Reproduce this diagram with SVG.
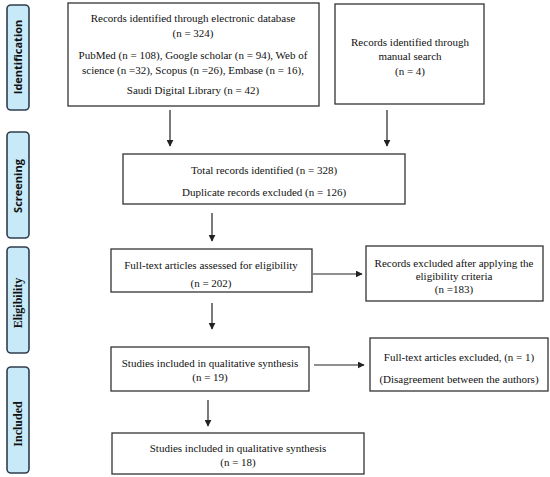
<svg xmlns="http://www.w3.org/2000/svg" width="550" height="477" viewBox="0 0 550 477">
<style>
.box{fill:#fff;stroke:#333;stroke-width:1.3}
.side{fill:#c8e9f8;stroke:#2e3e4c;stroke-width:1.6}
.t{font-family:"Liberation Serif",serif;font-size:11px;fill:#111;text-anchor:middle}
.ls{font-family:"Open Sans",sans-serif;font-size:11px;font-weight:bold;fill:#111;text-anchor:middle}
.lr{font-family:"Liberation Serif",serif;font-size:12px;font-weight:bold;fill:#111;text-anchor:middle}
.c{stroke:#222;stroke-width:1.2;fill:none;marker-end:url(#ah)}
</style>
<defs>
<marker id="ah" viewBox="0 0 10 10" refX="9" refY="5" markerWidth="7" markerHeight="7" markerUnits="userSpaceOnUse" orient="auto">
<path d="M0,0 L10,5 L0,10 z" fill="#222"/>
</marker>
</defs>
<rect width="550" height="477" fill="#fff"/>
<g id="stage-identification">
<rect class="side" x="7" y="5" width="22" height="105" rx="4"/>
<text class="ls" transform="translate(22,57) rotate(-90)">Identification</text>
</g>
<g id="stage-screening">
<rect class="side" x="7" y="132" width="22" height="106" rx="4"/>
<text class="ls" transform="translate(22,186) rotate(-90)">Screening</text>
</g>
<g id="stage-eligibility">
<rect class="side" x="7" y="247" width="22" height="106" rx="4"/>
<text class="lr" transform="translate(22,303) rotate(-90)">Eligibility</text>
</g>
<g id="stage-included">
<rect class="side" x="7" y="367" width="22" height="106" rx="4"/>
<text class="lr" transform="translate(22,424) rotate(-90)">Included</text>
</g>
<g id="n-database">
<rect class="box" x="68" y="3" width="251" height="103"/>
<text class="t" x="193" y="22">Records identified through electronic database</text>
<text class="t" x="193" y="37">(n = 324)</text>
<text class="t" x="193" y="59">PubMed (n = 108), Google scholar (n = 94), Web of</text>
<text class="t" x="193" y="74">science (n =32), Scopus (n =26), Embase (n = 16),</text>
<text class="t" x="193" y="94">Saudi Digital Library (n = 42)</text>
</g>
<g id="n-manual">
<rect class="box" x="335" y="4" width="149" height="100"/>
<text class="t" x="410" y="46">Records identified through</text>
<text class="t" x="410" y="60">manual search</text>
<text class="t" x="410" y="75">(n = 4)</text>
</g>
<g id="n-total">
<rect class="box" x="123" y="154" width="282" height="50"/>
<text class="t" x="264" y="174">Total records identified (n = 328)</text>
<text class="t" x="264" y="196">Duplicate records excluded (n = 126)</text>
</g>
<g id="n-fulltext">
<rect class="box" x="111" y="249" width="201" height="43"/>
<text class="t" x="211" y="269">Full-text articles assessed for eligibility</text>
<text class="t" x="211" y="287">(n = 202)</text>
</g>
<g id="n-excluded">
<rect class="box" x="366" y="246" width="177" height="55"/>
<text class="t" x="454" y="267">Records excluded after applying the</text>
<text class="t" x="454" y="280">eligibility criteria</text>
<text class="t" x="454" y="293">(n =183)</text>
</g>
<g id="n-studies19">
<rect class="box" x="111" y="347" width="198" height="44"/>
<text class="t" x="210" y="367">Studies included in qualitative synthesis</text>
<text class="t" x="210" y="381">(n = 19)</text>
</g>
<g id="n-excl1">
<rect class="box" x="370" y="338" width="178" height="53"/>
<text class="t" x="459" y="361">Full-text articles excluded, (n = 1)</text>
<text class="t" x="459" y="383">(Disagreement between the authors)</text>
</g>
<g id="n-studies18">
<rect class="box" x="112" y="433" width="252" height="41"/>
<text class="t" x="238" y="452">Studies included in qualitative synthesis</text>
<text class="t" x="238" y="466">(n = 18)</text>
</g>
<g id="connectors">
<path class="c" d="M170,110 V146"/>
<path class="c" d="M387,110 V146"/>
<path class="c" d="M212,213 V241"/>
<path class="c" d="M313,274 H362"/>
<path class="c" d="M212,303 V329"/>
<path class="c" d="M314,365 H364"/>
<path class="c" d="M208,400 V426"/>
</g>
</svg>
